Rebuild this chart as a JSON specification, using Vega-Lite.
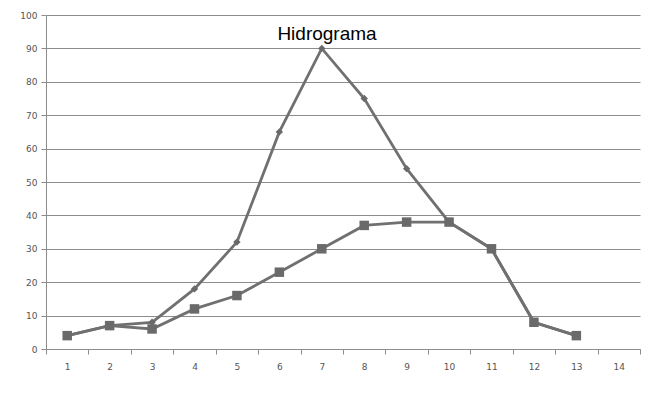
{
  "$schema": "https://vega.github.io/schema/vega-lite/v6.json",
  "width": 594,
  "height": 334,
  "autosize": {"type": "none"},
  "padding": {"left": 46, "top": 15, "right": 6, "bottom": 51},
  "background": "white",
  "title": {"text": "Hidrograma", "font": "Liberation Sans", "fontSize": 19, "fontWeight": 500, "color": "#000000", "offset": -33, "dx": -16, "anchor": "middle"},
  "config": {"view": {"stroke": null}},
  "data": {"values": [
    {"t": 1, "q": 4, "s": "Entrada"}, {"t": 2, "q": 7, "s": "Entrada"}, {"t": 3, "q": 8, "s": "Entrada"},
    {"t": 4, "q": 18, "s": "Entrada"}, {"t": 5, "q": 32, "s": "Entrada"}, {"t": 6, "q": 65, "s": "Entrada"},
    {"t": 7, "q": 90, "s": "Entrada"}, {"t": 8, "q": 75, "s": "Entrada"}, {"t": 9, "q": 54, "s": "Entrada"},
    {"t": 10, "q": 38, "s": "Entrada"}, {"t": 11, "q": 30, "s": "Entrada"}, {"t": 12, "q": 8, "s": "Entrada"},
    {"t": 13, "q": 4, "s": "Entrada"},
    {"t": 1, "q": 4, "s": "Salida"}, {"t": 2, "q": 7, "s": "Salida"}, {"t": 3, "q": 6, "s": "Salida"},
    {"t": 4, "q": 12, "s": "Salida"}, {"t": 5, "q": 16, "s": "Salida"}, {"t": 6, "q": 23, "s": "Salida"},
    {"t": 7, "q": 30, "s": "Salida"}, {"t": 8, "q": 37, "s": "Salida"}, {"t": 9, "q": 38, "s": "Salida"},
    {"t": 10, "q": 38, "s": "Salida"}, {"t": 11, "q": 30, "s": "Salida"}, {"t": 12, "q": 8, "s": "Salida"},
    {"t": 13, "q": 4, "s": "Salida"}
  ]},
  "encoding": {
    "x": {"field": "t", "type": "ordinal",
      "scale": {"type": "band", "domain": [1,2,3,4,5,6,7,8,9,10,11,12,13,14], "paddingInner": 0, "paddingOuter": 0},
      "axis": {"title": null, "labelAngle": 0, "tickBand": "extent", "domainColor": "#8c8c8c", "tickColor": "#8c8c8c", "tickSize": 5, "labelFont": "DejaVu Sans", "labelFontSize": 9, "labelColor": "#555555", "labelPadding": 8, "grid": false}},
    "y": {"field": "q", "type": "quantitative",
      "scale": {"domain": [0, 100], "nice": false},
      "axis": {"title": null, "values": [0,10,20,30,40,50,60,70,80,90,100], "gridColor": "#8c8c8c", "gridOpacity": 1, "domainColor": "#8c8c8c", "tickColor": "#8c8c8c", "tickSize": 5, "labelFont": "DejaVu Sans", "labelFontSize": 9, "labelColor": "#555555", "labelPadding": 4}}
  },
  "layer": [
    {"mark": {"type": "line", "color": "#707070", "strokeWidth": 2.8}, "encoding": {"detail": {"field": "s"}}},
    {"mark": {"type": "point", "filled": true, "color": "#6a6a6a", "opacity": 1},
     "encoding": {
       "shape": {"field": "s", "scale": {"domain": ["Entrada", "Salida"], "range": ["diamond", "square"]}, "legend": null},
       "size": {"field": "s", "scale": {"domain": ["Entrada", "Salida"], "range": [55, 90]}, "legend": null}
     }}
  ]
}
